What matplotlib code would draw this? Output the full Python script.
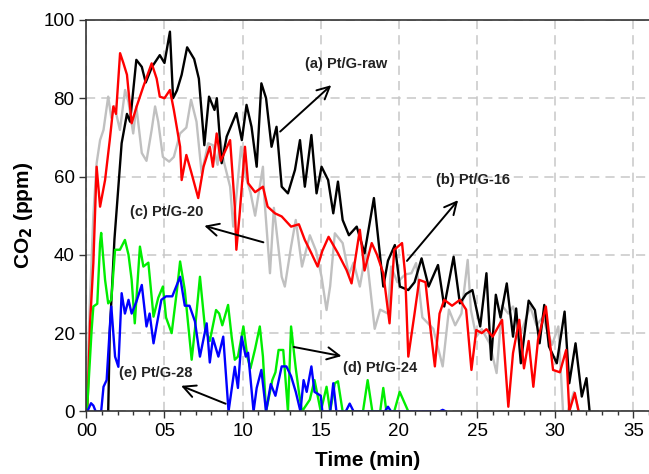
import matplotlib
matplotlib.use("Agg")
import matplotlib.pyplot as plt
from matplotlib.ticker import MultipleLocator, FixedLocator

# (a) Pt/G-raw, black
t_raw = [1.4, 1.5, 1.8, 2.26, 2.6, 2.8, 3.2, 3.55, 3.8, 4.2, 4.7, 5.0, 5.35, 5.55, 5.8, 6.1,
         6.45, 6.9, 7.2, 7.55, 7.85, 8.2, 8.35, 8.55, 8.66, 8.98, 9.6, 9.95, 10.25, 10.57, 10.9,
         11.2, 11.5, 11.85, 12.17, 12.5, 12.9, 13.35, 13.67, 13.98, 14.4, 14.73, 15.05, 15.47,
         15.8, 16.1, 16.4, 16.8, 17.3, 17.8, 18.4, 18.8, 19.0, 19.3, 19.74, 20.06, 20.6, 21.0,
         21.45, 21.9, 22.5, 22.9, 23.5, 23.9, 24.3, 24.7, 25.2, 25.6, 25.9, 26.2, 26.5, 26.9,
         27.3, 27.5, 27.8, 28.3, 28.7, 29.0, 29.3, 29.6, 30.1, 30.6, 30.9, 31.3, 31.7, 32.0, 32.2]
co2_raw = [0, 20, 44, 68.5, 76, 74, 89.8, 88, 84, 88, 91, 89, 97, 80, 82, 86,
           93, 90, 85, 68, 80.4, 77, 80, 69.3, 63.4, 70.2, 76.2, 69.3, 78.3, 72.7, 62.5,
           83.8, 80, 67.6, 72.7, 57.4, 55.7, 61.7, 69.3, 57.4, 70.6, 55.7, 62.5, 59.1,
           50.6, 58.7, 48.9, 45, 47.2, 40.4, 54.5, 39.5, 31.9, 38.5, 42.5, 31.9, 31, 33,
           39.1, 31.9, 37.4, 26.8, 39.5, 27.6, 30, 31, 21.7, 35.3, 13.2, 29.8, 24, 32.7,
           19.1, 26.3, 12.3, 28.3, 25.9, 17.4, 27.2, 16.6, 12.3, 25.5, 7.2, 17.4, 3.8, 8.5, 0]

# (b) Pt/G-16, red
t_16 = [0, 0.07, 0.24, 0.45, 0.66, 0.88, 1.2, 1.5, 1.73, 1.9, 2.16, 2.37, 2.6, 2.9, 3.22, 3.65,
        4.18, 4.5, 4.7, 5.0, 5.35, 5.6, 6.0, 6.1, 6.4, 6.7, 7.16, 7.5, 7.9, 8.1, 8.34, 8.6, 9.2,
        9.5, 9.6, 9.8, 10.15, 10.35, 10.8, 11.3, 11.6, 12.07, 12.5, 13.1, 13.6, 13.98, 14.4,
        14.8, 15.1, 15.5, 16.1, 16.65, 16.97, 17.5, 17.8, 18.26, 18.6, 19.0, 19.4, 19.7, 20.2,
        20.4, 20.6, 21.0, 21.3, 21.7, 22.0, 22.3, 22.6, 22.9, 23.4, 23.9, 24.3, 24.64, 24.95,
        25.3, 25.6, 26.0, 26.6, 27.0, 27.3, 27.7, 28.0, 28.3, 28.6, 28.9, 29.4, 29.86, 30.3,
        30.7, 30.9, 31.25, 31.5]
co2_16 = [0, 0.4, 22.5, 37.9, 62.5, 52.3, 59.1, 69.3, 77.9, 76, 91.5, 89, 86, 73.6, 77.9, 83,
          88.9, 85, 80.4, 80, 82.1, 77, 67.6, 59.1, 65.5, 61.3, 54.5, 62.5, 67.6, 62.5, 71, 64, 69.3,
          52.3, 41.3, 50, 67.6, 58.3, 56, 57.4, 52.3, 50.6, 49.8, 47.2, 47.8, 43.8, 40.4,
          37, 41, 44.6, 40.4, 36.1, 32.7, 46.4, 36, 43, 40, 35.3, 22.5, 41.3, 43,
          35, 14, 25, 33.6, 33, 21.7, 11.5, 25, 28.5, 27, 28.5, 26, 10.6, 20.8,
          20, 21, 19.1, 23.4, 1.2, 14.9, 23.4, 11, 18, 6.3, 18.3, 26.8, 10.6, 10,
          15.7, 0, 4.7, 0]

# (c) Pt/G-20, grey
t_20 = [0, 0.2, 0.45, 0.66, 0.88, 1.1, 1.4, 1.6, 1.8, 2.15, 2.48, 2.7, 3.0, 3.2, 3.55, 3.85,
        4.18, 4.4, 4.6, 4.9, 5.3, 5.6, 6.0, 6.4, 6.7, 7.05, 7.38, 7.8, 8.1, 8.4, 8.55, 8.8, 9.2,
        9.4, 9.6, 9.9, 10.2, 10.5, 10.8, 11.3, 11.4, 11.75, 12.0, 12.2, 12.5, 12.7, 13.1, 13.4,
        13.8, 14.3, 14.7, 15.05, 15.37, 15.6, 15.9, 16.4, 16.8, 17.1, 17.5, 17.9, 18.45, 18.8,
        19.3, 19.5, 19.9, 20.4, 20.8, 21.1, 21.5, 22.2, 22.8, 23.2, 23.6, 24.0, 24.4, 24.6,
        24.95, 25.3, 25.8, 26.25, 26.6, 27.0, 27.3, 27.8, 28.4, 28.8, 29.2, 29.8, 30.2, 30.5,
        30.8, 31.2, 31.5]
co2_20 = [0, 25, 50, 63.4, 69.3, 71.9, 80.4, 75, 78, 71.9, 82.1, 79, 71, 77.9, 66, 64,
          71.9, 77.9, 74, 65, 63.8, 65, 71, 72.5, 79.6, 74, 60.8, 68.5, 68, 63, 70, 63.8, 57.4,
          47.2, 55, 67.6, 60, 56, 50, 62.5, 54, 35.3, 52, 45, 34.4, 31.9, 42.1, 48.9,
          37, 45, 41, 34.4, 25.9, 32, 45.5, 43, 35, 38, 31.9, 41, 21.1, 26,
          25, 37, 33, 35, 35.3, 37.9, 24, 21.1, 11.5, 26, 22, 25, 38.7, 26,
          19.1, 21, 17.4, 9.8, 27, 25, 26.8, 20, 26.8, 22, 24, 17, 21.7, 0,
          0, 5, 0]

# (d) Pt/G-24, green
t_24 = [0, 0.07, 0.34, 0.45, 0.7, 0.88, 0.95, 1.2, 1.4, 1.6, 1.84, 2.15, 2.47, 2.7, 2.9, 3.1,
        3.43, 3.65, 3.97, 4.3, 4.6, 4.9, 5.1, 5.46, 5.8, 6.0, 6.3, 6.74, 6.95, 7.27, 7.6, 7.9,
        8.3, 8.5, 8.7, 9.07, 9.3, 9.5, 9.7, 10.05, 10.3, 10.5, 10.8, 11.1, 11.3, 11.5, 11.9,
        12.1, 12.3, 12.6, 12.9, 13.1, 13.4, 13.6, 13.8, 14.3, 14.6, 15.0, 15.37, 15.6, 15.9,
        16.1, 16.4, 17.7, 18.0, 18.3, 18.8, 19.0, 19.2, 19.7, 20.05, 20.6]
co2_24 = [0, 2, 20.8, 26.8, 27.5, 43, 45.6, 33.6, 27.6, 28.5, 41.3, 41.3, 43.8, 40, 33.6, 22.5,
          42.1, 37, 38, 24.2, 29, 31.9, 24, 20, 31, 38.3, 31, 13.2, 21, 34.4, 21, 18,
          25.9, 25, 22, 27.2, 19, 13.2, 14, 21.7, 14, 11, 16, 21.7, 14, 0, 8,
          10, 15.7, 15.7, 0, 21.7, 11, 5, 0, 3, 8, 0, 6.3, 0, 7.2,
          7.7, 0, 0, 8, 0, 0, 6, 0, 0, 5, 0]

# (e) Pt/G-28, blue
t_28 = [0, 0.07, 0.3, 0.45, 0.6, 0.95, 1.1, 1.3, 1.52, 1.6, 1.84, 2.05, 2.26, 2.47, 2.7, 2.9,
        3.2, 3.55, 3.85, 4.05, 4.3, 4.5, 4.8, 5.1, 5.5, 6.0, 6.3, 6.6, 6.95, 7.27, 7.7, 7.9,
        8.1, 8.45, 8.76, 9.1, 9.5, 9.7, 9.94, 10.2, 10.35, 10.7, 10.9, 11.2, 11.5, 11.8, 12.1,
        12.5, 12.8, 13.1, 13.4, 13.7, 13.9, 14.1, 14.4, 14.6, 15.0, 15.1, 15.6, 15.8, 16.0,
        16.6, 16.85, 17.1, 19.1, 19.3, 19.5, 22.6, 22.8, 23.0]
co2_28 = [0, 0, 2.1, 1.5, 0, 0, 6.3, 8, 22.5, 26.8, 14, 11.4, 30.2, 25, 28.5, 25,
          28, 32.3, 21.7, 25, 17.4, 22, 28.5, 29.4, 29.4, 34.4, 27, 27, 23, 14, 22.5, 12.5,
          18.7, 14, 19.1, 0, 11.4, 6, 19.1, 14, 15, 0, 6, 10.6, 0, 7, 4,
          11.5, 11.5, 9, 5, 0, 8, 5, 11.5, 5, 4, 0, 0, 7.2, 0,
          0, 2, 0, 0, 1.2, 0, 0, 0.4, 0]

x_ticks = [0, 5, 10, 15, 20, 25, 30, 35]
x_ticklabels = ["00", "05", "10", "15", "20", "25", "30", "35"]
y_ticks = [0, 20, 40, 60, 80, 100]

plt.rcParams["font.family"] = ["Liberation Sans", "DejaVu Sans"]

fig = plt.figure(figsize=(6.49, 4.74), dpi=100)
ax = fig.add_axes([0.133, 0.132, 0.867, 0.826])

ax.plot(t_20, co2_20, color="#c0c0c0", lw=1.7)
ax.plot(t_raw, co2_raw, color="black", lw=1.7)
ax.plot(t_16, co2_16, color="#ff0000", lw=1.7)
ax.plot(t_24, co2_24, color="#00ee00", lw=1.7)
ax.plot(t_28, co2_28, color="#0000ff", lw=1.7)

ax.set_xlim(0, 36)
ax.set_ylim(0, 100)
ax.xaxis.set_major_locator(FixedLocator(x_ticks))
ax.set_xticklabels(x_ticklabels)
ax.xaxis.set_minor_locator(MultipleLocator(1))
ax.set_yticks(y_ticks)
ax.tick_params(axis="both", which="major", labelsize=13.5, length=5, width=1, color="#333333")
ax.tick_params(axis="x", which="minor", length=3, width=1, color="#333333")
ax.grid(True, which="major", color="#c8c8c8", linestyle=(0, (6, 4)), lw=1.1)
ax.set_axisbelow(True)
for s in ["left", "bottom", "top"]:
    ax.spines[s].set_color("#333333")
    ax.spines[s].set_linewidth(1.2)
ax.spines["right"].set_visible(False)

ax.set_xlabel("Time (min)", fontsize=15, fontweight="bold", labelpad=8)
ax.set_ylabel("CO$_\\mathbf{2}$ (ppm)", fontsize=15, fontweight="bold", labelpad=6)

arrow = dict(arrowstyle="->", color="black", lw=1.4, mutation_scale=22)
ann = dict(fontsize=10.5, fontweight="bold", color="#222222", va="center", ha="left")
ax.annotate("", xy=(15.8, 83.8), xytext=(12.27, 71), arrowprops=arrow)
ax.text(14.0, 88.8, "(a) Pt/G-raw", **ann)
ax.annotate("", xy=(23.9, 54.5), xytext=(20.4, 37.9), arrowprops=arrow)
ax.text(22.4, 59.1, "(b) Pt/G-16", **ann)
ax.annotate("", xy=(7.38, 47.6), xytext=(11.5, 43), arrowprops=arrow)
ax.text(2.8, 50.9, "(c) Pt/G-20", **ann)
ax.annotate("", xy=(16.5, 14), xytext=(13.1, 16.6), arrowprops=arrow)
ax.text(16.4, 11, "(d) Pt/G-24", **ann)
ax.annotate("", xy=(5.9, 6.8), xytext=(9.08, 1.7), arrowprops=arrow)
ax.text(2.1, 9.75, "(e) Pt/G-28", **ann)

fig.savefig("out.png", dpi=100)
